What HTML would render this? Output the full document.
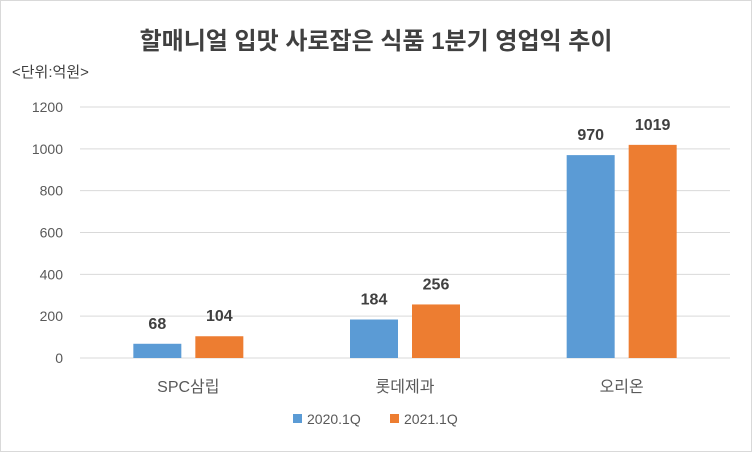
<!DOCTYPE html>
<html><head><meta charset="utf-8">
<style>
body{margin:0;background:#fff;}
#c{position:relative;width:752px;height:452px;font-family:"Liberation Sans","Noto Sans CJK KR",sans-serif;}
</style></head>
<body>
<div id="c">
<svg id="s" width="752" height="452" xmlns="http://www.w3.org/2000/svg" font-family="Liberation Sans, Noto Sans CJK KR, sans-serif">
<rect x="0.5" y="0.5" width="751" height="451" fill="#fff" stroke="#d9d9d9"/>
<text x="376" y="49" text-anchor="middle" font-size="24" font-weight="bold" fill="#404040">할매니얼 입맛 사로잡은 식품 1분기 영업익 추이</text>
<text x="12" y="77" font-size="15" fill="#404040">&lt;단위:억원&gt;</text>
<g id="grid"></g><g id="bars"></g>
<rect x="293" y="414" width="9" height="9" fill="#5b9bd5"/>
<text x="307" y="424" font-size="14" fill="#595959">2020.1Q</text>
<rect x="390" y="414" width="9" height="9" fill="#ed7d31"/>
<text x="404" y="424" font-size="14" fill="#595959">2021.1Q</text>
</svg>
</div>
<script>
const categories=["SPC삼립","롯데제과","오리온"];
const series2020=[68,184,970];
const series2021=[104,256,1019];
const yTicks=[0,200,400,600,800,1000,1200];
const NS="http://www.w3.org/2000/svg";
const x0=80,x1=730,y0=358,y1=107,yMax=1200;
function y(v){return y0-(v/yMax)*(y0-y1);}
const bw=(x1-x0)/categories.length;
function cx(i){return x0+bw*(i+0.5);}
function mk(t,a,p){const e=document.createElementNS(NS,t);for(const k in a)e.setAttribute(k,a[k]);p.appendChild(e);return e;}
const g=document.getElementById("grid"),b=document.getElementById("bars");
yTicks.forEach(v=>{
 const l=mk("line",{x1:x0,x2:x1,y1:y(v),y2:y(v),stroke:"#d9d9d9"},g);
 
 
 const t=mk("text",{x:63,y:y(v)+5,"text-anchor":"end","font-size":"14",fill:"#595959"},g);
 t.textContent=v;
 
 
});
categories.forEach((c,i)=>{
 const t=mk("text",{x:cx(i),y:392,"text-anchor":"middle","font-size":"16",fill:"#595959"},b);
 t.textContent=c;
 
 
 [[series2020,"#5b9bd5",-55],[series2021,"#ed7d31",7]].forEach(([s,col,off])=>{
  const v=s[i];
  const r=mk("rect",{x:cx(i)+off,y:y(v),width:48,height:y0-y(v),fill:col},b);
  
  
  const lt=mk("text",{x:cx(i)+off+24,y:y(v)-15,"text-anchor":"middle","font-size":"16","font-weight":"bold",fill:"#404040"},b);
  lt.textContent=v;
  
  
 });
});
</script>
</body></html>
